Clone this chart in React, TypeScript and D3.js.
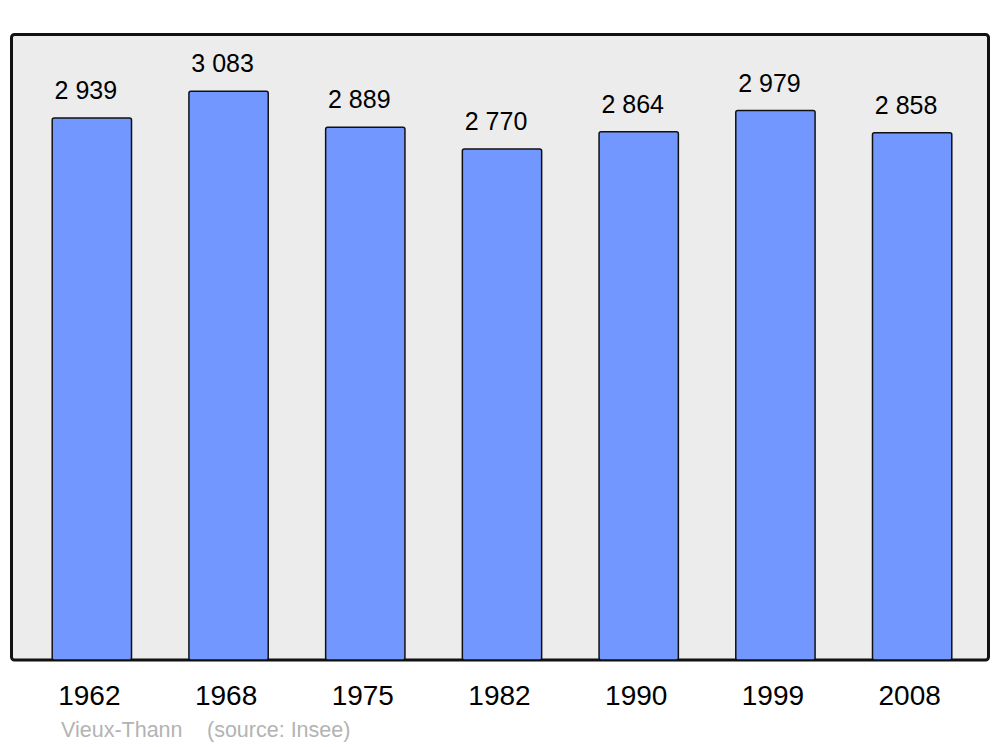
import React from "react";
import * as d3 from "d3";

// population per census year
const years = ["1962", "1968", "1975", "1982", "1990", "1999", "2008"];
const population = [2939, 3083, 2889, 2770, 2864, 2979, 2858];
const commune = "Vieux-Thann";
const sourceNote = "(source: Insee)";

const W = 1000;
const H = 747;
const panel = { x: 11.5, y: 34.5, w: 977, h: 625.5 };

const fmt = (v: number) => d3.format(",")(v).replace(/,/g, " ");

const App: React.FC = () => {
  const x = d3
    .scaleBand<string>()
    .domain(years)
    .range([23.5, 980.5])
    .paddingInner(0.42)
    .paddingOuter(0.21);

  const bottom = panel.y + panel.h;
  const y = d3
    .scaleLinear()
    .domain([0, (d3.max(population) ?? 0) * 1.1])
    .range([bottom, panel.y]);

  return (
    <svg
      width={W}
      height={H}
      style={{ position: "absolute", left: 0, top: 0, fontFamily: "'Liberation Sans', Arial, sans-serif" }}
    >
      <rect x={0} y={0} width={W} height={H} fill="#ffffff" />
      <rect
        x={panel.x}
        y={panel.y}
        width={panel.w}
        height={panel.h}
        rx={3}
        fill="#ececec"
        stroke="#111"
        strokeWidth={3}
      />
      {years.map((yr, i) => {
        const bx = x(yr) ?? 0;
        const top = y(population[i]);
        return (
          <g key={yr}>
            <rect
              x={bx}
              y={top}
              width={x.bandwidth()}
              height={bottom - top}
              rx={2}
              fill="#7298ff"
              stroke="#111"
              strokeWidth={1.5}
            />
            <text x={bx + x.bandwidth() / 2 - 6} y={top - 19} textAnchor="middle" fontSize={25} fill="#000">
              {fmt(population[i])}
            </text>
            <text x={bx + x.bandwidth() / 2 - 2.5} y={705} textAnchor="middle" fontSize={28} fill="#000">
              {yr}
            </text>
          </g>
        );
      })}
      <text x={61} y={737} fontSize={21.5} fill="#b3b3b3">
        {commune}
      </text>
      <text x={207} y={737} fontSize={21.5} fill="#b3b3b3">
        {sourceNote}
      </text>
    </svg>
  );
};

export default App;
